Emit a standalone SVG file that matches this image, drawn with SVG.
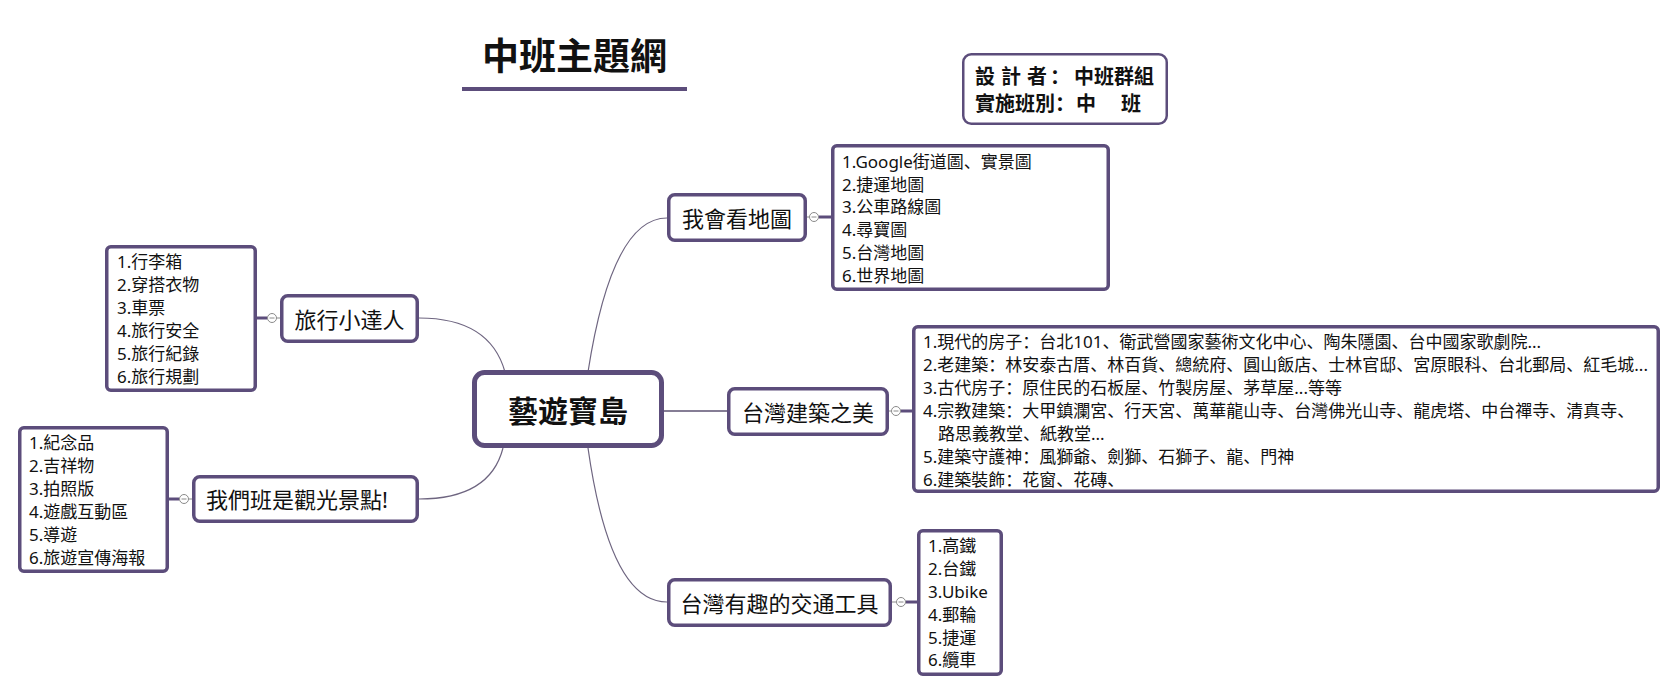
<svg xmlns="http://www.w3.org/2000/svg" width="1677" height="693" viewBox="0 0 1677 693">
<style>
.t{font-family:"Noto Sans","Noto Sans CJK SC",sans-serif;fill:#111;dominant-baseline:central}
.b{font-weight:bold}
.topic{font-size:22px;text-anchor:middle}
.det{font-size:17px}
.box{fill:#fff;stroke:#5c4d7b;stroke-width:3.5}
.root{fill:#fff;stroke:#5c4d7b;stroke-width:5}
.conn{fill:none;stroke:#6e6580;stroke-width:1.2}
.stub{stroke:#5c4d7b;stroke-width:3}
.thin{stroke:#8a8a8a;stroke-width:1}
.knob{fill:#fff;stroke:#8a8a8a;stroke-width:1}
</style>
<rect width="1677" height="693" fill="#fff"/>

<g id="title">
<text class="t b" x="574.5" y="55" font-size="37" text-anchor="middle" fill="#2b2b2b">中班主題網</text>
<rect x="462" y="87" width="225" height="4" fill="#5c4d7b"/>
</g>

<g id="designer">
<rect x="963.25" y="54.25" width="203.5" height="69.5" rx="8" fill="#fff" stroke="#5c4d7b" stroke-width="2.5"/>
<text class="t b" font-size="20" y="76"><tspan x="975">設</tspan><tspan x="1001">計</tspan><tspan x="1027">者</tspan><tspan x="1050">：</tspan><tspan x="1074">中班群組</tspan></text>
<text class="t b" font-size="20" y="103"><tspan x="975">實施班別</tspan><tspan x="1055">：</tspan><tspan x="1076">中</tspan><tspan x="1121">班</tspan></text>
</g>

<g id="connectors">
<path class="conn" d="M588 372 Q612 218 667 218"/>
<path class="conn" d="M505 372 Q490 318 419 318"/>
<path class="conn" d="M503 448 Q490 499 419 499"/>
<path class="conn" d="M588 448 Q610 602 667 602"/>
<line x1="664" y1="411" x2="727" y2="411" stroke="#857d95" stroke-width="1.8"/>
<line class="thin" x1="807" y1="217" x2="809.5" y2="217"/>
<line class="stub" x1="818.5" y1="217" x2="831" y2="217"/>
<circle class="knob" cx="814" cy="217" r="4.5"/>
<line class="thin" x1="811.5" y1="217" x2="816.5" y2="217"/>
<line class="thin" x1="889" y1="411" x2="891.5" y2="411"/>
<line class="stub" x1="900.5" y1="411" x2="912" y2="411"/>
<circle class="knob" cx="896" cy="411" r="4.5"/>
<line class="thin" x1="893.5" y1="411" x2="898.5" y2="411"/>
<line class="thin" x1="892" y1="602" x2="896.5" y2="602"/>
<line class="stub" x1="905.5" y1="602" x2="917" y2="602"/>
<circle class="knob" cx="901" cy="602" r="4.5"/>
<line class="thin" x1="898.5" y1="602" x2="903.5" y2="602"/>
<line class="thin" x1="276.5" y1="318" x2="280" y2="318"/>
<line class="stub" x1="257" y1="318" x2="267.5" y2="318"/>
<circle class="knob" cx="272" cy="318" r="4.5"/>
<line class="thin" x1="269.5" y1="318" x2="274.5" y2="318"/>
<line class="thin" x1="188.5" y1="499" x2="192" y2="499"/>
<line class="stub" x1="169" y1="499" x2="179.5" y2="499"/>
<circle class="knob" cx="184" cy="499" r="4.5"/>
<line class="thin" x1="181.5" y1="499" x2="186.5" y2="499"/>
</g>

<g id="root">
<rect class="root" x="474.5" y="372.5" width="187" height="73" rx="10"/>
<text class="t b" x="568" y="410" font-size="30" text-anchor="middle" fill="#000">藝遊寶島</text>
</g>

<g id="map">
<rect class="box" x="668.75" y="194.75" width="136.5" height="45.5" rx="6"/>
<text class="t topic" x="737" y="217.5">我會看地圖</text>
</g>
<g id="map-detail">
<rect class="box" x="832.75" y="145.75" width="275.5" height="143.5" rx="4"/>
<text class="t det" x="842" y="161">1.Google街道圖、實景圖</text>
<text class="t det" x="842" y="184">2.捷運地圖</text>
<text class="t det" x="842" y="206">3.公車路線圖</text>
<text class="t det" x="842" y="229">4.尋寶圖</text>
<text class="t det" x="842" y="252">5.台灣地圖</text>
<text class="t det" x="842" y="275">6.世界地圖</text>
</g>

<g id="arch">
<rect class="box" x="728.75" y="388.75" width="158.5" height="45.5" rx="6"/>
<text class="t topic" x="808" y="412">台灣建築之美</text>
</g>
<g id="arch-detail">
<rect class="box" x="913.75" y="326.75" width="744.5" height="164.5" rx="4"/>
<text class="t det" x="923" y="341">1.現代的房子：台北101、衛武營國家藝術文化中心、陶朱隱園、台中國家歌劇院...</text>
<text class="t det" x="923" y="364">2.老建築：林安泰古厝、林百貨、總統府、圓山飯店、士林官邸、宮原眼科、台北郵局、紅毛城...</text>
<text class="t det" x="923" y="387">3.古代房子：原住民的石板屋、竹製房屋、茅草屋...等等</text>
<text class="t det" x="923" y="410">4.宗教建築：大甲鎮瀾宮、行天宮、萬華龍山寺、台灣佛光山寺、龍虎塔、中台禪寺、清真寺、</text>
<text class="t det" x="938" y="433">路思義教堂、紙教堂...</text>
<text class="t det" x="923" y="456">5.建築守護神：風獅爺、劍獅、石獅子、龍、門神</text>
<text class="t det" x="923" y="479">6.建築裝飾：花窗、花磚、</text>
</g>

<g id="transport">
<rect class="box" x="668.75" y="579.75" width="221.5" height="45.5" rx="6"/>
<text class="t topic" x="779.5" y="603">台灣有趣的交通工具</text>
</g>
<g id="transport-detail">
<rect class="box" x="918.75" y="530.75" width="82.5" height="143.5" rx="4"/>
<text class="t det" x="928" y="545">1.高鐵</text>
<text class="t det" x="928" y="568">2.台鐵</text>
<text class="t det" x="928" y="591">3.Ubike</text>
<text class="t det" x="928" y="614">4.郵輪</text>
<text class="t det" x="928" y="637">5.捷運</text>
<text class="t det" x="928" y="659">6.纜車</text>
</g>

<g id="travel">
<rect class="box" x="281.75" y="295.75" width="135.5" height="45.5" rx="6"/>
<text class="t topic" x="349.5" y="318.5">旅行小達人</text>
</g>
<g id="travel-detail">
<rect class="box" x="106.75" y="246.75" width="148.5" height="143.5" rx="4"/>
<text class="t det" x="117" y="261">1.行李箱</text>
<text class="t det" x="117" y="284">2.穿搭衣物</text>
<text class="t det" x="117" y="307">3.車票</text>
<text class="t det" x="117" y="330">4.旅行安全</text>
<text class="t det" x="117" y="353">5.旅行紀錄</text>
<text class="t det" x="117" y="376">6.旅行規劃</text>
</g>

<g id="spot">
<rect class="box" x="193.75" y="476.75" width="223.5" height="44.5" rx="6"/>
<text class="t" x="206" y="499" font-size="22">我們班是觀光景點!</text>
</g>
<g id="spot-detail">
<rect class="box" x="19.75" y="427.75" width="147.5" height="143.5" rx="4"/>
<text class="t det" x="29" y="442">1.紀念品</text>
<text class="t det" x="29" y="465">2.吉祥物</text>
<text class="t det" x="29" y="488">3.拍照版</text>
<text class="t det" x="29" y="511">4.遊戲互動區</text>
<text class="t det" x="29" y="534">5.導遊</text>
<text class="t det" x="29" y="557">6.旅遊宣傳海報</text>
</g>
</svg>
